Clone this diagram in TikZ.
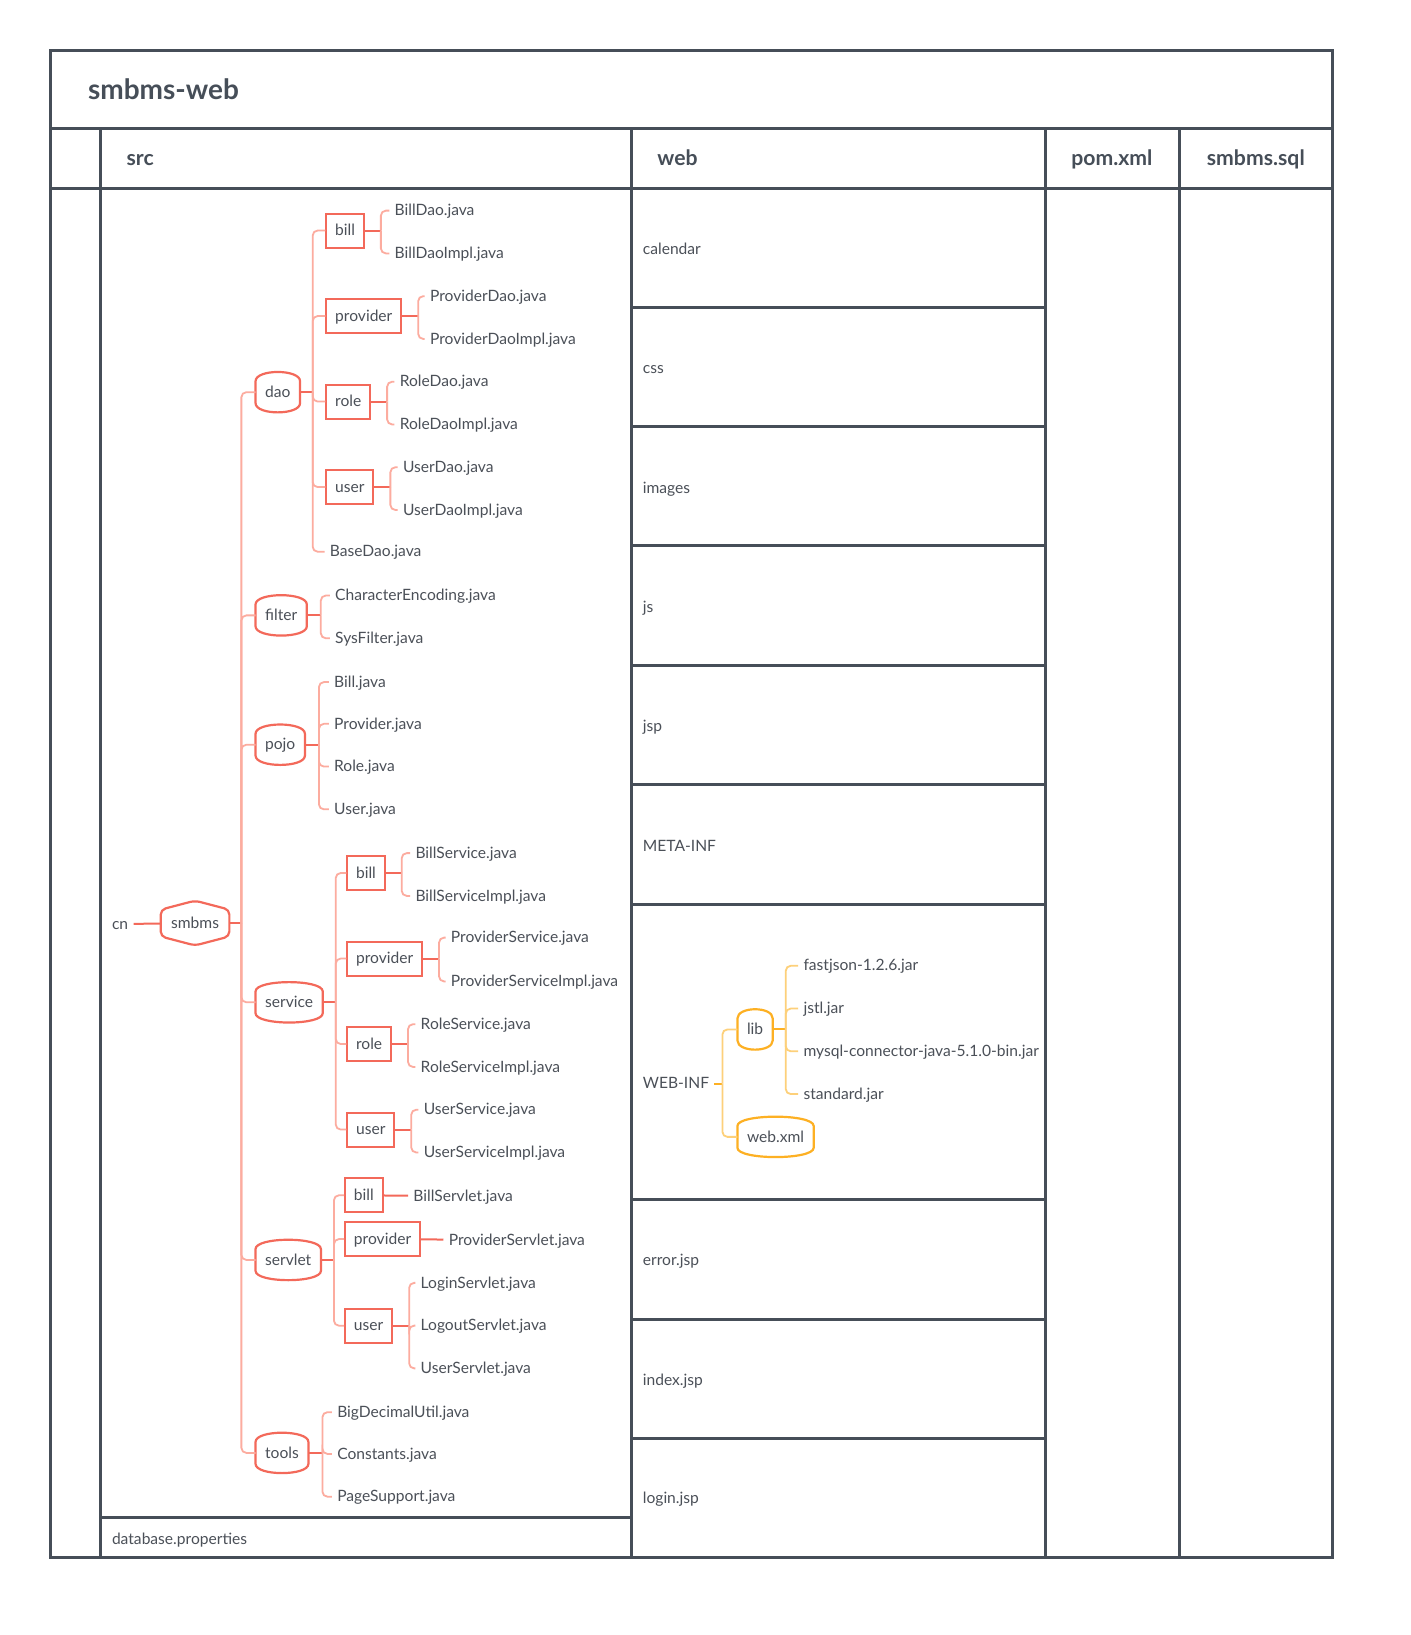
\documentclass[tikz,border=0pt]{standalone}
\usepackage{fontspec}
\setmainfont{Lato}
\usetikzlibrary{calc}
\definecolor{frm}{HTML}{464E58}
\definecolor{ink}{HTML}{4B5058}
\definecolor{rd}{HTML}{F3695A}
\definecolor{rdl}{HTML}{FCAC9F}
\definecolor{og}{HTML}{FDB023}
\definecolor{ogl}{HTML}{FDD07A}
\tikzset{
  grid/.style={draw=frm, line width=1.5pt},
  lbl/.style={text=ink, font=\fontsize{7.8}{9}\selectfont, inner sep=0pt, text height=0.72em, text depth=0.2em},
  leaf/.style={lbl, anchor=west, inner xsep=2.5pt, xshift=-2.5pt, yshift=-0.5pt},
  box/.style={lbl, anchor=west, draw=rd, line width=1pt, inner xsep=4.4pt, minimum height=17pt},
  barrel/.style={lbl, anchor=west, inner xsep=4.6pt, minimum height=18.5pt},
  hexa/.style={lbl, inner xsep=5pt, minimum height=13pt},
  stub/.style={draw=#1, line width=1pt},
  link/.style={draw=#1, line width=0.9pt, rounded corners=2.5pt},
  hdr/.style={text=frm, font=\bfseries\fontsize{10.6}{12}\selectfont, inner sep=0pt, text height=0.72em, text depth=0.2em},
}
\newcommand\barrelshape[2]{%
  \draw[#2, line width=1.1pt] ($(#1.north west)+(0,-4pt)$) .. controls ($(#1.north west)+(0,2.2pt)$) and ($(#1.north east)+(0,2.2pt)$) .. ($(#1.north east)+(0,-4pt)$) -- ($(#1.south east)+(0,4pt)$) .. controls ($(#1.south east)+(0,-2.2pt)$) and ($(#1.south west)+(0,-2.2pt)$) .. ($(#1.south west)+(0,4pt)$) -- cycle;}
\newcommand\hexshape[2]{%
  \draw[#2, line width=1.1pt, rounded corners=2.5pt] (#1.west) -- (#1.north west) -- ($(#1.north)+(0,4.5pt)$) -- (#1.north east) -- (#1.south east) -- ($(#1.south)+(0,-4.5pt)$) -- (#1.south west) -- cycle;}
\newcommand\junc[3][rd]{\coordinate (#2-j) at ($(#2.east)+(#3,0)$); \draw[stub=#1] (#2) -- (#2-j);}
\newcommand\lnk[3][rdl]{\draw[link=#1] (#2-j) |- (#3);}
\begin{document}
\begin{tikzpicture}[x=0.5215pt, y=-0.5215pt]
\useasboundingbox (0,0) rectangle (1352,1567.6);
\fill[white] (0,0) rectangle (1352,1567.6);
% frame
\draw[grid] (48,48) rectangle (1278,1493);
\draw[grid] (48,123) -- (1278,123);
\draw[grid] (48,180.3) -- (1278,180.3);
\draw[grid] (96,123) -- (96,1493);
\draw[grid] (605,123) -- (605,1493);
\draw[grid] (1002,123) -- (1002,1493);
\draw[grid] (1131,123) -- (1131,1493);
\draw[grid] (96,1455) -- (605,1455);
\foreach \yy in {295,409,523,638,752,867,1150,1265,1379} \draw[grid] (605,\yy) -- (1002,\yy);
% headers
\node[hdr, anchor=west, font=\bfseries\fontsize{14}{16}\selectfont] (title) at (84,90) {smbms-web};
\node[hdr, anchor=west] (hsrc) at (121,154) {src};
\node[hdr, anchor=west] (hweb) at (630,154) {web};
\node[hdr] (hpom) at (1066,154) {pom.xml};
\node[hdr] (hsql) at (1204,154) {smbms.sql};
% src tree
\node[leaf] (cn) at (107,885) {cn};
\node[hexa] (smbms) at (187,885) {smbms};
\hexshape{smbms}{rd}
\draw[stub=rd] (cn) -- (smbms);
\node[barrel] (dao) at (245,376) {dao};
\node[barrel] (filter) at (245,590) {filter};
\node[barrel] (pojo) at (245,714) {pojo};
\node[barrel] (service) at (245,961) {service};
\node[barrel] (servlet) at (245,1208) {servlet};
\node[barrel] (tools) at (245,1393) {tools};
\foreach \n in {dao,filter,pojo,service,servlet,tools} {\barrelshape{\n}{rd}}
\junc{smbms}{6pt}
\foreach \n in {dao,filter,pojo,service,servlet,tools} {\lnk{smbms}{\n}}
% dao
\node[box] (dbill) at (312,221) {bill};
\node[box] (dprov) at (312,303) {provider};
\node[box] (drole) at (312,385) {role};
\node[box] (duser) at (312,467) {user};
\node[leaf] (basedao) at (316,528) {BaseDao.java};
\junc{dao}{6.3pt}
\foreach \n in {dbill,dprov,drole,duser,basedao} {\lnk{dao}{\n}}
\node[leaf] (d1) at (378,201) {BillDao.java};
\node[leaf] (d2) at (378,242) {BillDaoImpl.java};
\node[leaf] (d3) at (412,283) {ProviderDao.java};
\node[leaf] (d4) at (412,324) {ProviderDaoImpl.java};
\node[leaf] (d5) at (383,365) {RoleDao.java};
\node[leaf] (d6) at (383,406) {RoleDaoImpl.java};
\node[leaf] (d7) at (386,447) {UserDao.java};
\node[leaf] (d8) at (386,488) {UserDaoImpl.java};
\junc{dbill}{8pt}\lnk{dbill}{d1}\lnk{dbill}{d2}
\junc{dprov}{8pt}\lnk{dprov}{d3}\lnk{dprov}{d4}
\junc{drole}{8pt}\lnk{drole}{d5}\lnk{drole}{d6}
\junc{duser}{8pt}\lnk{duser}{d7}\lnk{duser}{d8}
% filter
\node[leaf] (f1) at (321,570) {CharacterEncoding.java};
\node[leaf] (f2) at (321,611) {SysFilter.java};
\junc{filter}{7pt}\lnk{filter}{f1}\lnk{filter}{f2}
% pojo
\node[leaf] (p1) at (320,653) {Bill.java};
\node[leaf] (p2) at (320,693) {Provider.java};
\node[leaf] (p3) at (320,734) {Role.java};
\node[leaf] (p4) at (320,775) {User.java};
\junc{pojo}{7pt}\lnk{pojo}{p1}\lnk{pojo}{p2}\lnk{pojo}{p3}\lnk{pojo}{p4}
% service
\node[box] (sbill) at (332,837) {bill};
\node[box] (sprov) at (332,919) {provider};
\node[box] (srole) at (332,1001) {role};
\node[box] (suser) at (332,1083) {user};
\junc{service}{6.5pt}
\foreach \n in {sbill,sprov,srole,suser} {\lnk{service}{\n}}
\node[leaf] (s1) at (398,817) {BillService.java};
\node[leaf] (s2) at (398,858) {BillServiceImpl.java};
\node[leaf] (s3) at (432,898) {ProviderService.java};
\node[leaf] (s4) at (432,940) {ProviderServiceImpl.java};
\node[leaf] (s5) at (403,981) {RoleService.java};
\node[leaf] (s6) at (403,1022) {RoleServiceImpl.java};
\node[leaf] (s7) at (406,1063) {UserService.java};
\node[leaf] (s8) at (406,1104) {UserServiceImpl.java};
\junc{sbill}{8pt}\lnk{sbill}{s1}\lnk{sbill}{s2}
\junc{sprov}{8pt}\lnk{sprov}{s3}\lnk{sprov}{s4}
\junc{srole}{8pt}\lnk{srole}{s5}\lnk{srole}{s6}
\junc{suser}{8pt}\lnk{suser}{s7}\lnk{suser}{s8}
% servlet
\node[box] (vbill) at (330,1146) {bill};
\node[box] (vprov) at (330,1188) {provider};
\node[box] (vuser) at (330,1271) {user};
\junc{servlet}{6.5pt}
\foreach \n in {vbill,vprov,vuser} {\lnk{servlet}{\n}}
\node[leaf] (v1) at (396,1146) {BillServlet.java};
\node[leaf] (v2) at (430,1188) {ProviderServlet.java};
\node[leaf] (v3) at (403,1229) {LoginServlet.java};
\node[leaf] (v4) at (403,1270) {LogoutServlet.java};
\node[leaf] (v5) at (403,1311) {UserServlet.java};
\draw[stub=rd] (vbill) -- (v1);
\draw[stub=rd] (vprov) -- (v2);
\junc{vuser}{8pt}\lnk{vuser}{v3}\lnk{vuser}{v4}\lnk{vuser}{v5}
% tools
\node[leaf] (t1) at (323,1353) {BigDecimalUtil.java};
\node[leaf] (t2) at (323,1393) {Constants.java};
\node[leaf] (t3) at (323,1434) {PageSupport.java};
\junc{tools}{7pt}\lnk{tools}{t1}\lnk{tools}{t2}\lnk{tools}{t3}
\node[leaf] (dbprop) at (107,1475) {database.properties};
% web column
\node[leaf] (w1) at (616,238) {calendar};
\node[leaf] (w2) at (616,352) {css};
\node[leaf] (w3) at (616,467) {images};
\node[leaf] (w4) at (616,581) {js};
\node[leaf] (w5) at (616,695) {jsp};
\node[leaf] (w6) at (616,810) {META-INF};
\node[leaf] (webinf) at (616,1038) {WEB-INF};
\node[leaf] (w8) at (616,1207) {error.jsp};
\node[leaf] (w9) at (616,1322) {index.jsp};
\node[leaf] (w10) at (616,1436) {login.jsp};
\node[barrel] (lib) at (707,987) {lib};
\node[barrel] (webxml) at (707,1090) {web.xml};
\barrelshape{lib}{og}
\barrelshape{webxml}{og}
\junc[og]{webinf}{4pt}
\lnk[ogl]{webinf}{lib}\lnk[ogl]{webinf}{webxml}
\node[leaf] (j1) at (770,925) {fastjson-1.2.6.jar};
\node[leaf] (j2) at (770,966) {jstl.jar};
\node[leaf] (j3) at (770,1007) {mysql-connector-java-5.1.0-bin.jar};
\node[leaf] (j4) at (770,1048) {standard.jar};
\junc[og]{lib}{6.5pt}
\lnk[ogl]{lib}{j1}\lnk[ogl]{lib}{j2}\lnk[ogl]{lib}{j3}\lnk[ogl]{lib}{j4}
\end{tikzpicture}
\end{document}
